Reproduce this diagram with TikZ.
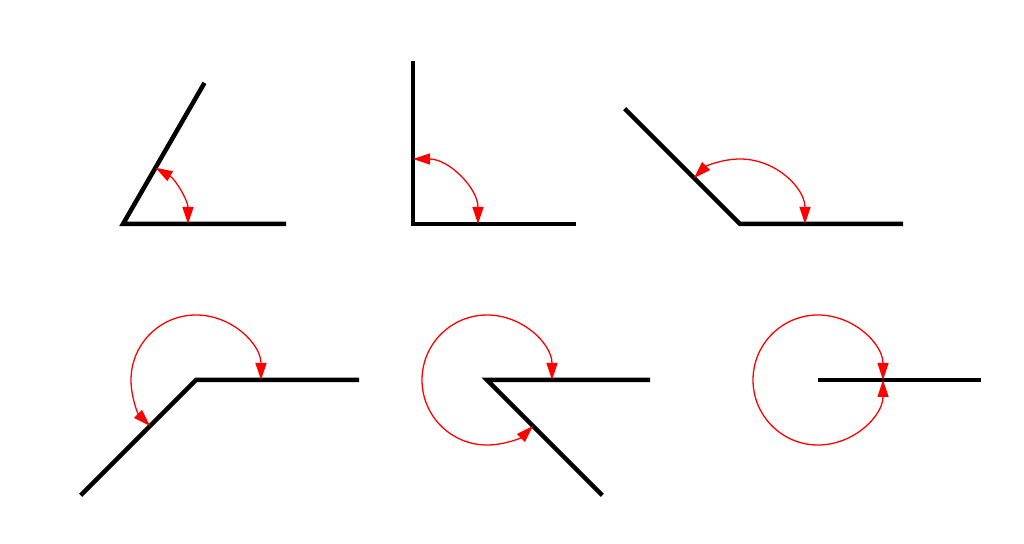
\documentclass[tikz,border=0pt]{standalone}
\usetikzlibrary{arrows.meta,calc}
\begin{document}
\begin{tikzpicture}[x=1pt,y=1pt,
  ray/.style={line width=4.5pt,black,line join=miter},
  anglearc/.style={red,line width=1.3pt,{Triangle[length=17pt,width=11pt]}-{Triangle[length=17pt,width=11pt]}}]
\useasboundingbox (0,0) rectangle (1024,543);
\coordinate (v1) at (123,319);
\coordinate (v2) at (413,319);
\coordinate (v3) at (740,319);
\coordinate (v4) at (196,163);
\coordinate (v5) at (487,163);
\coordinate (v6) at (818,163);
% rays
\draw[ray] ($(v1)+(0:163)$) -- (v1) -- ($(v1)+(60:163)$);
\draw[ray] ($(v2)+(0:163)$) -- (v2) -- ($(v2)+(90:163)$);
\draw[ray] ($(v3)+(0:163)$) -- (v3) -- ($(v3)+(135:163)$);
\draw[ray] ($(v4)+(0:163)$) -- (v4) -- ($(v4)+(225:163)$);
\draw[ray] ($(v5)+(0:163)$) -- (v5) -- ($(v5)+(315:163)$);
\draw[ray] (v6) -- ($(v6)+(0:163)$);
% arcs
\draw[anglearc] ($(v1)+(0:65)$) arc[start angle=0,end angle=60,radius=65];
\draw[anglearc] ($(v2)+(0:65)$) arc[start angle=0,end angle=90,radius=65];
\draw[anglearc] ($(v3)+(0:65)$) arc[start angle=0,end angle=135,radius=65];
\draw[anglearc] ($(v4)+(0:65)$) arc[start angle=0,end angle=225,radius=65];
\draw[anglearc] ($(v5)+(0:65)$) arc[start angle=0,end angle=315,radius=65];
\draw[anglearc] ($(v6)+(0:65)$) arc[start angle=0,end angle=360,radius=65];
\end{tikzpicture}
\end{document}
